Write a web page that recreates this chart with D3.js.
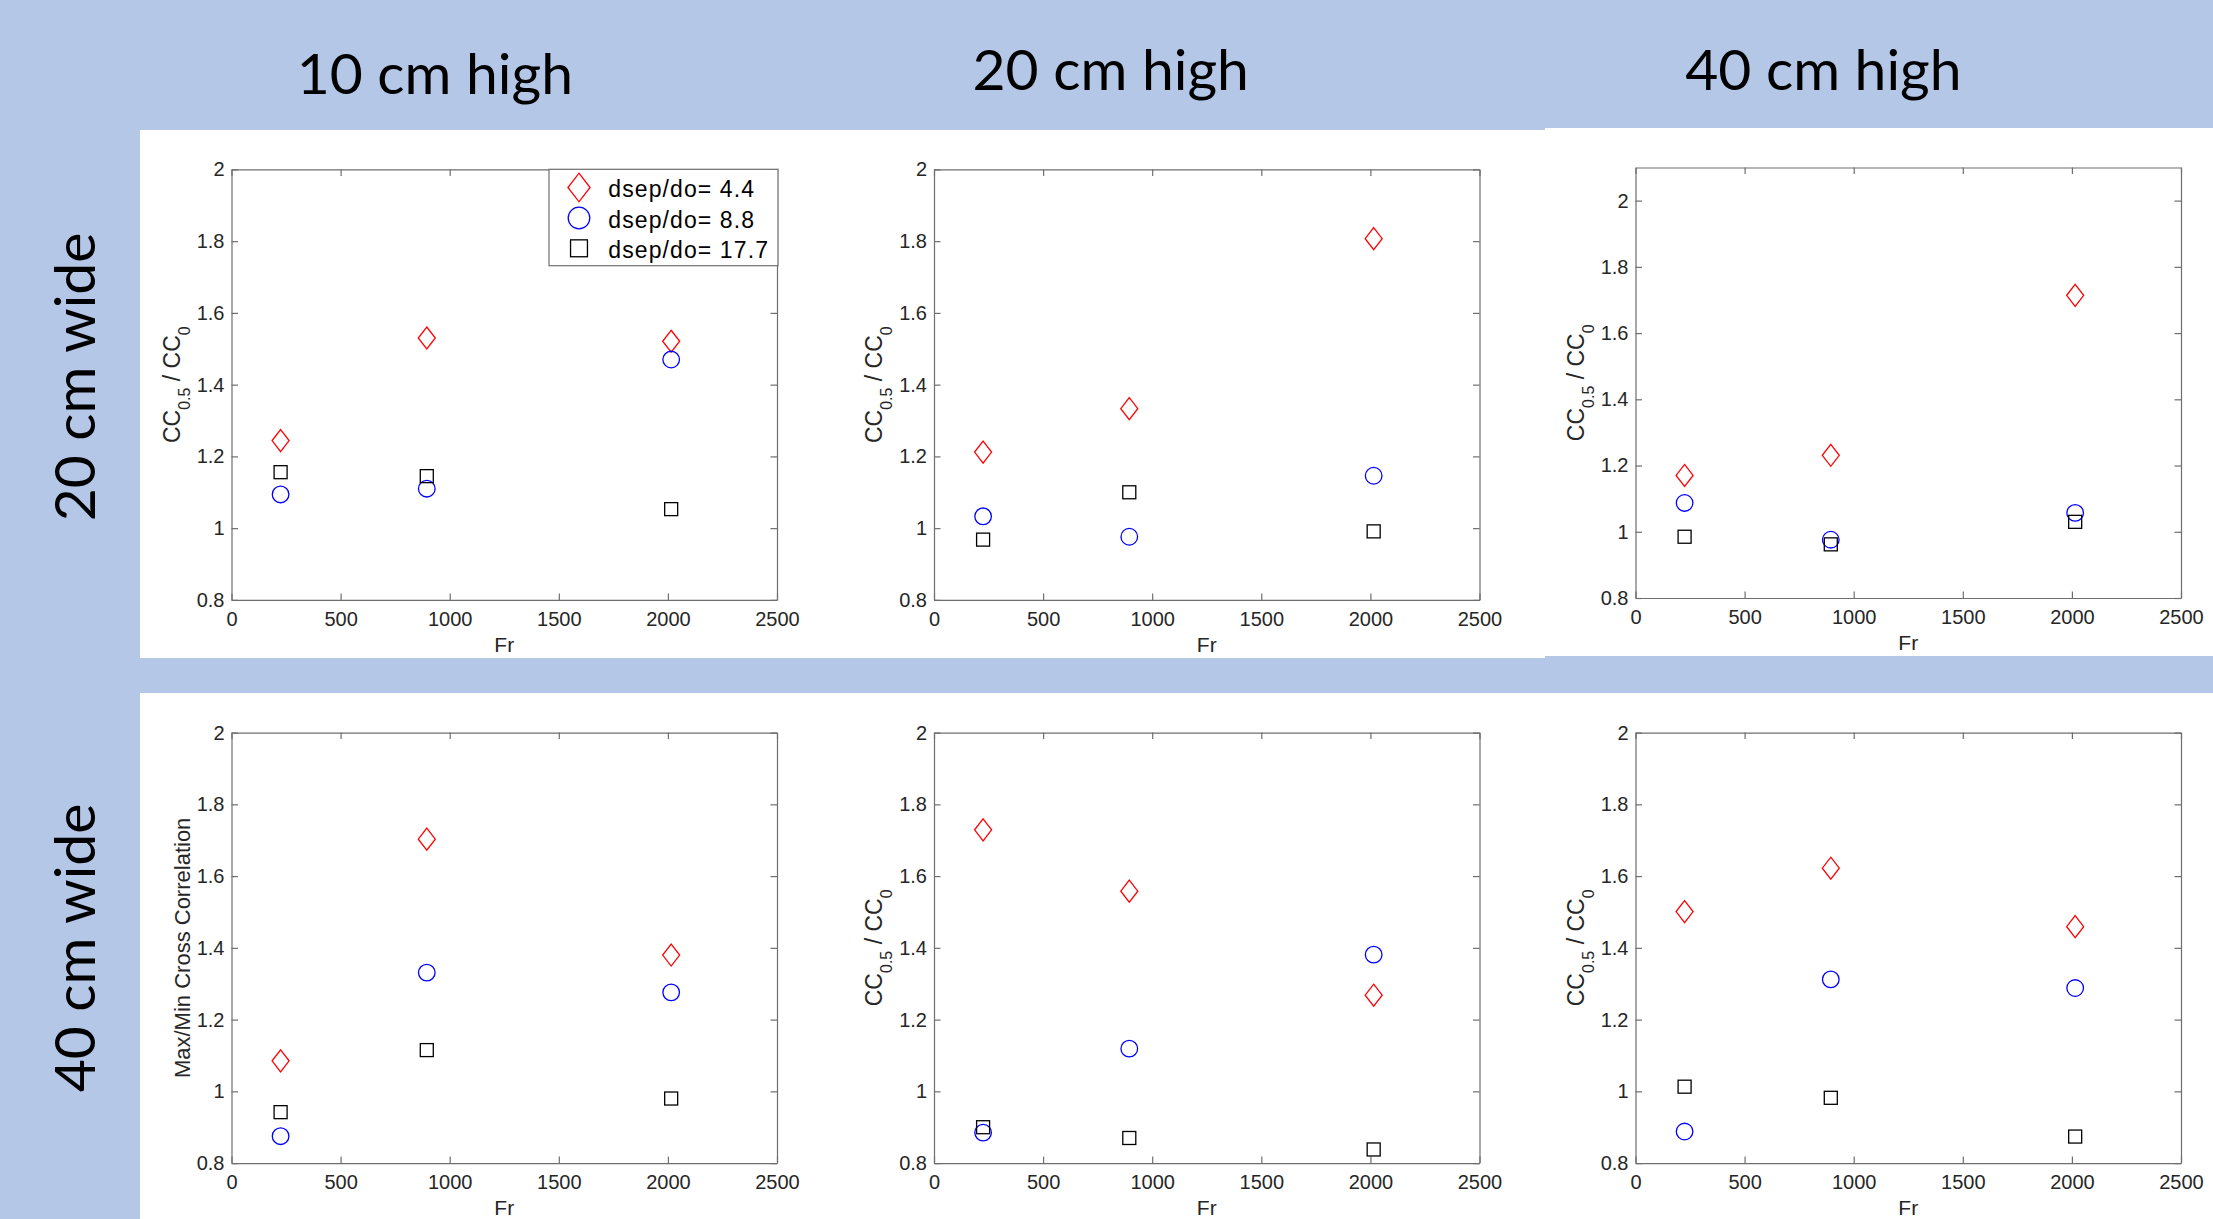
<!DOCTYPE html>
<html>
<head>
<meta charset="utf-8">
<script src="https://cdn.jsdelivr.net/npm/d3@7"></script>
<style>
  body { margin: 0; background: #B4C7E7; overflow: hidden; }
</style>
</head>
<body>
<div id="fig"></div>
<script>
// DATA
var frValues = [225, 895, 2015];
var seriesNames = ["dsep/do= 4.4", "dsep/do= 8.8", "dsep/do= 17.7"];
var colTitles = ["10 cm high", "20 cm high", "40 cm high"];
var rowTitles = ["20 cm wide", "40 cm wide"];
var xTicks = [0, 500, 1000, 1500, 2000, 2500];
var yTicks = [0.8, 1, 1.2, 1.4, 1.6, 1.8, 2];

// each panel: [dsep/do 4.4, dsep/do 8.8, dsep/do 17.7] at frValues
var w20h10 = [[1.244, 1.530, 1.521], [1.094, 1.110, 1.470], [1.156, 1.145, 1.053]];
var w20h20 = [[1.212, 1.333, 1.807], [1.033, 0.976, 1.146], [0.968, 1.100, 0.991]];
var w20h40 = [[1.170, 1.231, 1.714], [1.087, 0.976, 1.057], [0.985, 0.962, 1.030]];
var w40h10 = [[1.085, 1.703, 1.380], [0.875, 1.331, 1.276], [0.942, 1.115, 0.980]];
var w40h20 = [[1.729, 1.558, 1.268], [0.885, 1.119, 1.381], [0.900, 0.870, 0.838]];
var w40h40 = [[1.501, 1.622, 1.459], [0.888, 1.312, 1.288], [1.013, 0.982, 0.874]];

var seriesColors = ["#FF0000", "#0000FF", "#000000"];
var seriesShapes = ["diamond", "circle", "square"];

var W = 2213, H = 1219;
var plotW = 545.5, plotH = 430.5;
var axisColor = "#6e6e6e";
var tickFont = "'Liberation Sans', Arial, Helvetica, sans-serif";
var titleFont = "Lato, 'Open Sans', sans-serif";

var svg = d3.select('#fig').append('svg')
	.attr('width', W)
	.attr('height', H);

svg.append('rect')
	.attr('width', W).attr('height', H)
	.attr('fill', '#B4C7E7');

//WHITE PANELS
var panels = [[140, 130, 1545, 658], [1545, 128, 2213, 656], [140, 693, 2213, 1219]];
svg.selectAll('rect.panel').data(panels).enter().append('rect')
	.attr('class', 'panel')
	.attr('x', function(d) { return d[0]; })
	.attr('y', function(d) { return d[1]; })
	.attr('width', function(d) { return d[2] - d[0]; })
	.attr('height', function(d) { return d[3] - d[1]; })
	.attr('fill', '#ffffff');

//TITLES
var colX = [434.8, 1110.7, 1823.4];
var colBase = [94, 90, 90];
colTitles.forEach(function(t, i) {
	svg.append('text')
		.attr('x', colX[i]).attr('y', colBase[i])
		.attr('text-anchor', 'middle')
		.attr('font-family', titleFont)
		.attr('font-size', 57)
		.attr('fill', '#000')
		.text(t);
});
var rowY = [377, 948];
rowTitles.forEach(function(t, i) {
	svg.append('text')
		.attr('transform', 'translate(95,' + rowY[i] + ') rotate(-90)')
		.attr('text-anchor', 'middle')
		.attr('font-family', titleFont)
		.attr('font-size', 57)
		.attr('fill', '#000')
		.text(t);
});

//PLOTS
var plots = [
	{ data: w20h10, left: 231.5, top: 169.4, yMax: 2, ylab: 'cc', legend: true },
	{ data: w20h20, left: 934.0, top: 169.4, yMax: 2, ylab: 'cc' },
	{ data: w20h40, left: 1635.5, top: 167.5, yMax: 2.1, ylab: 'cc' },
	{ data: w40h10, left: 231.5, top: 732.6, yMax: 2, ylab: 'max' },
	{ data: w40h20, left: 934.0, top: 732.6, yMax: 2, ylab: 'cc' },
	{ data: w40h40, left: 1635.5, top: 732.6, yMax: 2, ylab: 'cc' }
];

function drawMarker(g, shape, color, cx, cy, s) {
	if (shape == 'diamond') {
		g.append('path')
			.attr('d', 'M0,' + (-11 * s) + 'L' + (8.5 * s) + ',0L0,' + (11 * s) + 'L' + (-8.5 * s) + ',0Z')
			.attr('transform', 'translate(' + cx + ',' + cy + ')');
	} else if (shape == 'circle') {
		g.append('circle').attr('cx', cx).attr('cy', cy).attr('r', 8.3 * s);
	} else {
		g.append('rect')
			.attr('x', cx - 6.5 * s).attr('y', cy - 6.5 * s)
			.attr('width', 13 * s).attr('height', 13 * s);
	}
	g.selectAll('*').attr('fill', 'none').attr('stroke', color).attr('stroke-width', 1.3);
}

function styleAxis(a) {
	a.attr('font-family', tickFont).attr('font-size', 20);
	a.select('.domain').attr('stroke', axisColor).attr('stroke-width', 1.2);
	a.selectAll('.tick line').attr('stroke', axisColor).attr('stroke-width', 1.2);
	a.selectAll('.tick text').attr('fill', '#262626');
}

var plainFmt = function(d) { return String(d); };

plots.forEach(function(p) {
	var x = d3.scaleLinear().domain([0, 2500]).range([p.left, p.left + plotW]);
	var y = d3.scaleLinear().domain([0.8, p.yMax]).range([p.top + plotH, p.top]);
	var g = svg.append('g');

	var ax = g.append('g').attr('transform', 'translate(0,' + (p.top + plotH) + ')')
		.call(d3.axisBottom(x).tickValues(xTicks).tickSize(-6.5).tickSizeOuter(0).tickPadding(12).tickFormat(plainFmt));
	styleAxis(ax);
	var axT = g.append('g').attr('transform', 'translate(0,' + p.top + ')')
		.call(d3.axisTop(x).tickValues(xTicks).tickSize(-6.5).tickSizeOuter(0).tickFormat(''));
	styleAxis(axT);
	var ay = g.append('g').attr('transform', 'translate(' + p.left + ',0)')
		.call(d3.axisLeft(y).tickValues(yTicks).tickSize(-6.5).tickSizeOuter(0).tickPadding(7).tickFormat(plainFmt));
	styleAxis(ay);
	var ayR = g.append('g').attr('transform', 'translate(' + (p.left + plotW) + ',0)')
		.call(d3.axisRight(y).tickValues(yTicks).tickSize(-6.5).tickSizeOuter(0).tickFormat(''));
	styleAxis(ayR);

	// x label
	g.append('text')
		.attr('x', p.left + plotW / 2).attr('y', p.top + plotH + 52)
		.attr('text-anchor', 'middle')
		.attr('font-family', tickFont).attr('font-size', 21)
		.attr('fill', '#262626')
		.text('Fr');

	// y label
	var midY = p.top + plotH / 2;
	if (p.ylab == 'max') {
		g.append('text')
			.attr('transform', 'translate(' + (p.left - 42) + ',' + midY + ') rotate(-90)')
			.attr('text-anchor', 'middle')
			.attr('font-family', tickFont).attr('font-size', 22)
			.attr('fill', '#262626')
			.text('Max/Min Cross Correlation');
	} else {
		var lab = g.append('text')
			.attr('transform', 'translate(' + (p.left - 52) + ',' + midY + ') rotate(-90)')
			.attr('text-anchor', 'middle')
			.attr('font-family', tickFont).attr('font-size', 23)
			.attr('fill', '#262626')
			.style('white-space', 'pre');
		lab.append('tspan').text('CC');
		lab.append('tspan').attr('dy', 10).attr('font-size', 16).text('0.5');
		lab.append('tspan').attr('dy', -10).text(' / CC');
		lab.append('tspan').attr('dy', 10).attr('font-size', 16).text('0');
	}

	// markers
	p.data.forEach(function(vals, s) {
		vals.forEach(function(v, i) {
			drawMarker(g.append('g'), seriesShapes[s], seriesColors[s], x(frValues[i]), y(v), 1);
		});
	});

	// legend
	if (p.legend) {
		var lx = 549, ly = 169.3;
		var lg = svg.append('g');
		lg.append('rect')
			.attr('x', lx).attr('y', ly).attr('width', 229).attr('height', 96.4)
			.attr('fill', '#ffffff').attr('stroke', axisColor).attr('stroke-width', 1.2);
		var rowsY = [187.5, 218, 248.3];
		seriesNames.forEach(function(name, s) {
			drawMarker(lg.append('g'), seriesShapes[s], seriesColors[s], 579, rowsY[s], 1.3);
			lg.append('text')
				.attr('x', 608.3).attr('y', rowsY[s] + 9.5)
				.attr('font-family', tickFont).attr('font-size', 23)
				.attr('letter-spacing', 1.1)
				.attr('fill', '#000')
				.text(name);
		});
	}
});
</script>
</body>
</html>
